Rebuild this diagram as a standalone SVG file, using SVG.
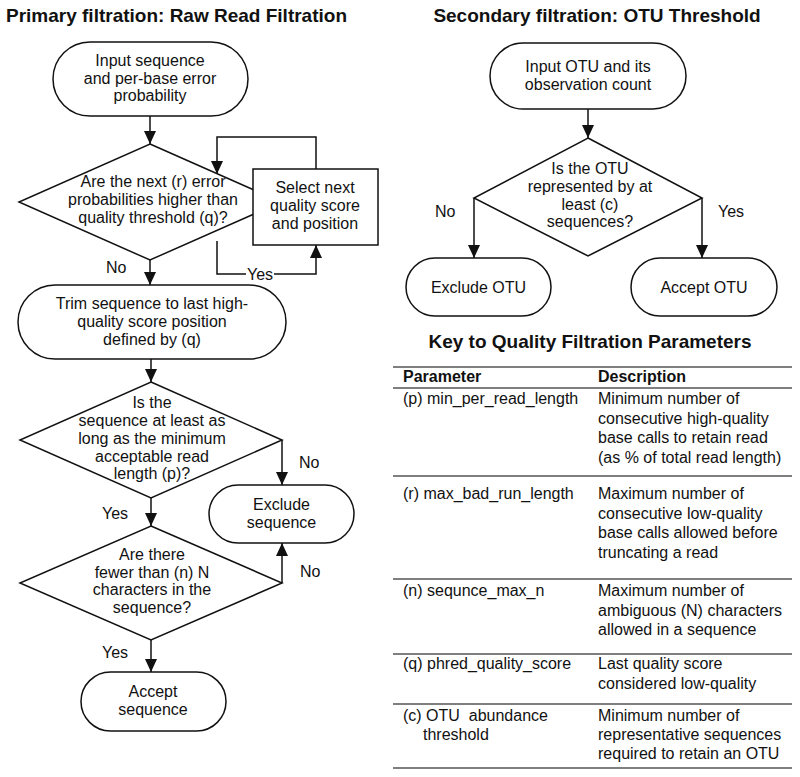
<svg xmlns="http://www.w3.org/2000/svg" width="800" height="777" viewBox="0 0 800 777">
<style>
text{font-family:"Liberation Sans",Arial,sans-serif;font-size:16px;fill:#111}
.c{text-anchor:middle}
.title{font-size:19px;font-weight:bold}
.hdr{font-weight:bold}
.shape{fill:#fff;stroke:#111;stroke-width:1.5}
.conn{fill:none;stroke:#111;stroke-width:1.5}
.rule{stroke:#555;stroke-width:1.5}
</style>
<defs>
<marker id="arr" markerUnits="userSpaceOnUse" markerWidth="13" markerHeight="12" refX="13" refY="6" orient="auto">
<path d="M0,0 L13,6 L0,12 z" fill="#111"/>
</marker>
</defs>
<rect width="800" height="777" fill="#fff"/>

<text class="title" x="6" y="22">Primary filtration: Raw Read Filtration</text>
<text class="title c" x="597" y="22">Secondary filtration: OTU Threshold</text>

<g id="connectors">
<line class="conn" x1="150" y1="116" x2="150" y2="144" marker-end="url(#arr)"/>
<polyline class="conn" points="316,169 316,137 217,137 217,174" marker-end="url(#arr)"/>
<polyline class="conn" points="217,241 217,274 316,274 316,245" marker-end="url(#arr)"/>
<rect x="246" y="266" width="28" height="16" fill="#fff"/>
<text x="247" y="280">Yes</text>
<line class="conn" x1="150" y1="260" x2="150" y2="285" marker-end="url(#arr)"/>
<text x="106" y="273">No</text>
<line class="conn" x1="151" y1="359" x2="151" y2="382" marker-end="url(#arr)"/>
<polyline class="conn" points="282,440 282,485" marker-end="url(#arr)"/>
<text x="299" y="468">No</text>
<line class="conn" x1="151" y1="498" x2="151" y2="526" marker-end="url(#arr)"/>
<text x="102" y="519">Yes</text>
<polyline class="conn" points="282,583 282,543" marker-end="url(#arr)"/>
<text x="300" y="577">No</text>
<line class="conn" x1="151" y1="640" x2="151" y2="672" marker-end="url(#arr)"/>
<text x="102" y="658">Yes</text>

<line class="conn" x1="588" y1="109" x2="588" y2="138" marker-end="url(#arr)"/>
<polyline class="conn" points="474,198 474,258" marker-end="url(#arr)"/>
<text x="435" y="217">No</text>
<polyline class="conn" points="702,198 702,258" marker-end="url(#arr)"/>
<text x="718" y="217">Yes</text>
</g>

<g id="input-sequence">
<rect class="shape" x="53" y="42" width="195" height="74" rx="37"/>
<text class="c" x="150" y="66">Input sequence</text>
<text class="c" x="150" y="83.5">and per-base error</text>
<text class="c" x="150" y="101">probability</text>
</g>

<g id="error-check">
<polygon class="shape" points="150,144 281,202 150,260 19,202"/>
<text class="c" x="153" y="187">Are the next (r) error</text>
<text class="c" x="153" y="205">probabilities higher than</text>
<text class="c" x="153" y="223">quality threshold (q)?</text>
</g>

<g id="select-next">
<rect class="shape" x="253" y="169" width="125" height="76"/>
<text class="c" x="315" y="193">Select next</text>
<text class="c" x="315" y="211">quality score</text>
<text class="c" x="315" y="229">and position</text>
</g>

<g id="trim">
<rect class="shape" x="18" y="285" width="268" height="74" rx="37"/>
<text class="c" x="152" y="309">Trim sequence to last high-</text>
<text class="c" x="152" y="327">quality score position</text>
<text class="c" x="152" y="345">defined by (q)</text>
</g>

<g id="length-check">
<polygon class="shape" points="151,382 282,440 151,498 20,440"/>
<text class="c" x="152" y="408">Is the</text>
<text class="c" x="152" y="426">sequence at least as</text>
<text class="c" x="152" y="444">long as the minimum</text>
<text class="c" x="152" y="461.5">acceptable read</text>
<text class="c" x="152" y="479">length (p)?</text>
</g>

<g id="exclude-sequence">
<rect class="shape" x="209" y="485" width="145" height="58" rx="29"/>
<text class="c" x="281.5" y="510">Exclude</text>
<text class="c" x="281.5" y="528">sequence</text>
</g>

<g id="n-check">
<polygon class="shape" points="151,526 282,583 151,640 20,583"/>
<text class="c" x="152" y="560">Are there</text>
<text class="c" x="152" y="578">fewer than (n) N</text>
<text class="c" x="152" y="595">characters in the</text>
<text class="c" x="152" y="613">sequence?</text>
</g>

<g id="accept-sequence">
<rect class="shape" x="81" y="672" width="145" height="59" rx="29.5"/>
<text class="c" x="153" y="697">Accept</text>
<text class="c" x="153" y="715">sequence</text>
</g>

<g id="input-otu">
<rect class="shape" x="490" y="43" width="196" height="66" rx="33"/>
<text class="c" x="588" y="72">Input OTU and its</text>
<text class="c" x="588" y="89.5">observation count</text>
</g>

<g id="otu-check">
<polygon class="shape" points="588,138 702,198 588,256 474,198"/>
<text class="c" x="590" y="174">Is the OTU</text>
<text class="c" x="590" y="192">represented by at</text>
<text class="c" x="590" y="209.5">least (c)</text>
<text class="c" x="590" y="227">sequences?</text>
</g>

<g id="exclude-otu">
<rect class="shape" x="406" y="258" width="145" height="58" rx="29"/>
<text class="c" x="478.5" y="293">Exclude OTU</text>
</g>

<g id="accept-otu">
<rect class="shape" x="631" y="258" width="146" height="58" rx="29"/>
<text class="c" x="704" y="293">Accept OTU</text>
</g>

<g id="key-table">
<text class="title c" x="590" y="348">Key to Quality Filtration Parameters</text>
<line class="rule" x1="393" y1="367" x2="792" y2="367"/>
<text class="hdr" x="403" y="382">Parameter</text>
<text class="hdr" x="598" y="382">Description</text>
<line class="rule" x1="393" y1="388" x2="792" y2="388"/>

<text x="403" y="404">(p) min_per_read_length</text>
<text x="598" y="404">Minimum number of</text>
<text x="598" y="423.5">consecutive high-quality</text>
<text x="598" y="443">base calls to retain read</text>
<text x="598" y="462.5">(as % of total read length)</text>
<line class="rule" x1="393" y1="476" x2="792" y2="476"/>

<text x="403" y="499">(r) max_bad_run_length</text>
<text x="598" y="499">Maximum number of</text>
<text x="598" y="518.5">consecutive low-quality</text>
<text x="598" y="538">base calls allowed before</text>
<text x="598" y="557.5">truncating a read</text>
<line class="rule" x1="393" y1="579" x2="792" y2="579"/>

<text x="403" y="596">(n) sequnce_max_n</text>
<text x="598" y="596">Maximum number of</text>
<text x="598" y="615.5">ambiguous (N) characters</text>
<text x="598" y="635">allowed in a sequence</text>
<line class="rule" x1="393" y1="654" x2="792" y2="654"/>

<text x="403" y="669">(q) phred_quality_score</text>
<text x="598" y="669">Last quality score</text>
<text x="598" y="688.5">considered low-quality</text>
<line class="rule" x1="393" y1="704" x2="792" y2="704"/>

<text x="403" y="721" xml:space="preserve">(c) OTU  abundance</text>
<text x="423" y="740">threshold</text>
<text x="598" y="721">Minimum number of</text>
<text x="598" y="740">representative sequences</text>
<text x="598" y="759">required to retain an OTU</text>
<line class="rule" x1="393" y1="768" x2="792" y2="768"/>
</g>
</svg>
